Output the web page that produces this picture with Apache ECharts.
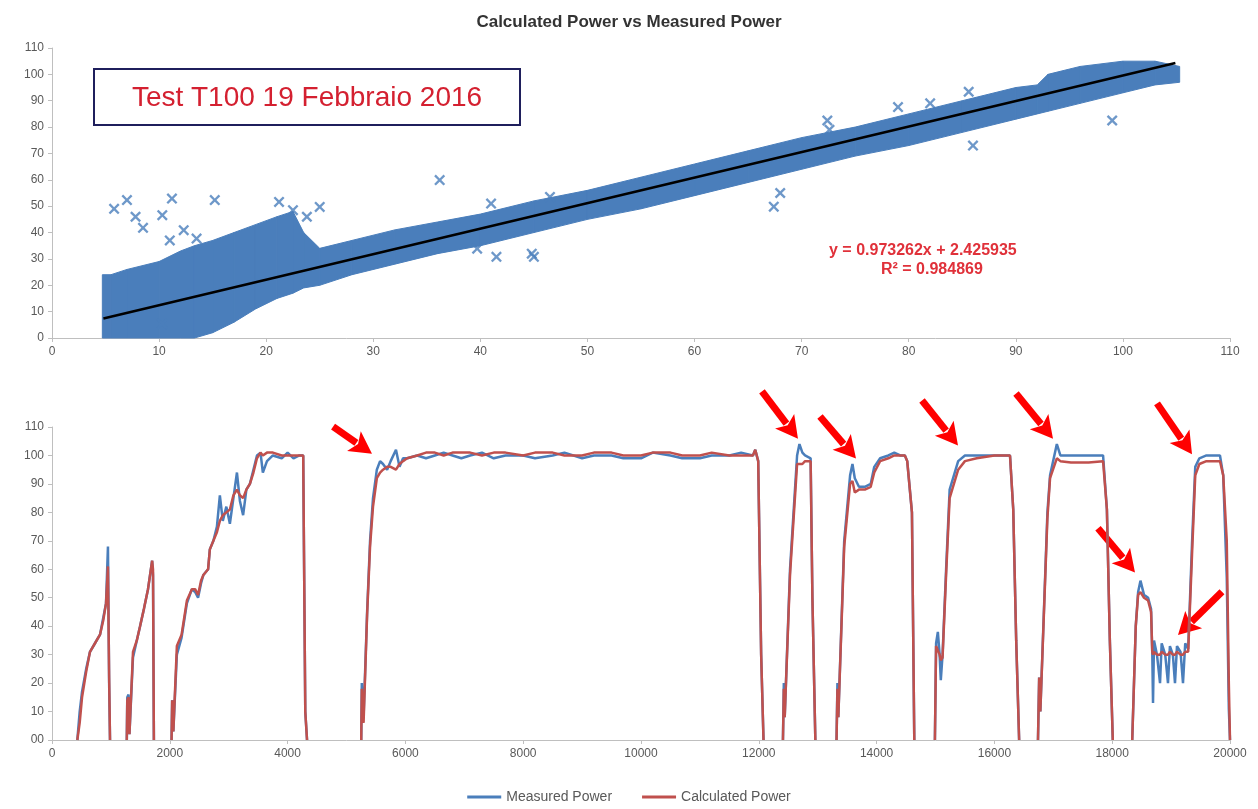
<!DOCTYPE html>
<html>
<head>
<meta charset="utf-8">
<title>Calculated Power vs Measured Power</title>
<script src="https://cdn.jsdelivr.net/npm/echarts@6/dist/echarts.min.js"></script>
<style>
  html, body { margin: 0; padding: 0; background: #fff; }
  #chart { width: 1258px; height: 809px; }
</style>
</head>
<body>
<div id="chart"></div>
<script>
// --- top chart: measured (x) vs calculated (y), band edges
var bandX     = [4.7, 5.5, 7, 10, 12, 13.3, 15, 17, 19, 21, 22.5, 23.5, 25, 28, 32, 36, 40, 45, 50, 55, 60, 65, 70, 75, 80, 85, 90, 92, 93, 96, 100, 103, 105.3];
var bandUpper = [24, 24, 26, 29, 33, 35, 37, 40, 43, 46, 48, 40, 34, 37, 41, 44, 47, 52, 56, 61, 66, 71, 76, 80, 85, 90, 95, 96, 100, 103, 105, 105, 103];
var bandLower = [0, 0, 0, 0, 0, 0, 2, 6, 11, 15, 17, 19, 20, 24, 28, 32, 35, 40, 45, 49, 54, 59, 64, 69, 73, 78, 83, 85, 86, 89, 93, 96, 97];

var outlierX = [5.8, 7, 7.8, 8.5, 10.3, 11.2, 11, 12.3, 13.5, 15.2, 21.2, 22.5, 23.8, 25, 36.2, 41, 41.5, 44.8, 45, 39.7, 46.5, 10.3, 67.4, 68, 72.4, 72.6, 79, 82, 85.6, 86, 99];
var outlierY = [49, 52.3, 46, 41.8, 46.6, 52.9, 37, 40.9, 37.7, 52.3, 51.6, 48.5, 46, 49.7, 59.9, 51, 30.8, 32, 30.8, 33.9, 53.5, 5.4, 49.8, 55, 82.5, 79, 87.6, 89, 93.4, 73, 82.5];

// excel linear trendline, end points
var trendX = [4.8, 104.9];
var trendY = [7.4, 104.3];

// --- bottom chart: power over time (null = no data)
var time = [
  430, 470, 510, 580, 645, 730, 815, 870, 917, 950, 970, 985, 1100,
  1270, 1278, 1300, 1315, 1375, 1440, 1495, 1560, 1630, 1700, 1715, 1730, 1850,
  2030, 2040, 2060, 2120, 2200, 2290, 2375, 2430, 2480, 2530, 2570, 2650, 2680, 2740, 2800, 2850, 2900, 2960, 3020, 3080, 3140, 3190, 3245, 3300, 3360, 3420, 3480, 3540, 3580, 3650, 3750, 3900, 4000, 4100, 4200, 4265, 4300, 4330, 4800,
  5250, 5260, 5290, 5350, 5400, 5450, 5515, 5570, 5620, 5690, 5750, 5840, 5900, 5960, 6030,
  6200, 6350, 6500, 6650, 6800, 6950, 7100, 7300, 7500, 7700, 8000, 8200, 8500, 8700, 9000, 9200, 9500, 9700, 10000, 10200, 10500, 10700, 11000, 11200, 11500, 11700, 11900,
  11940, 11990, 12040, 12080, 12250,
  12410, 12425, 12440, 12530, 12650, 12690, 12740, 12785, 12880, 12910, 12960, 13150,
  13320, 13335, 13350, 13450, 13550, 13590, 13630, 13700, 13800, 13900, 13960, 14060, 14200, 14300, 14400, 14480, 14520, 14600, 14640, 14800,
  14990, 15010, 15040, 15070, 15090, 15120, 15180, 15240, 15385, 15500, 15700, 16000, 16265, 16320, 16370, 16420, 16600,
  16740, 16760, 16780, 16900, 16945, 17060, 17120, 17300, 17600, 17845, 17910, 17960, 18010, 18150,
  18340, 18400, 18440, 18480, 18540, 18610, 18660, 18680, 18693, 18710, 18760, 18812, 18840, 18900, 18947, 18980, 19030, 19066, 19100, 19160, 19202, 19240, 19290, 19355, 19410, 19480, 19600, 19830, 19885, 19945, 19980, 20000
];
var measured = [
  0, 10, 17, 25, 31, 34, 37, 43, 48, 68, 20, 0, null,
  0, 15, 16, 2, 29, 35, 40, 46, 53, 63, 58, 0, null,
  0, 14, 3, 30, 36, 48, 53, 52, 50, 55, 58, 60, 67, 70, 75, 86, 77, 82, 76, 85, 94, 84, 79, 88, 90, 95, 100, 101, 94, 98, 100, 99, 101, 99, 100, 100, 10, 0, null,
  0, 20, 8, 45, 70, 85, 95, 98, 97, 95, 98, 102, 96, 99, 99,
  100, 99, 100, 101, 100, 99, 100, 101, 99, 100, 100, 99, 100, 101, 99, 100, 100, 99, 99, 101, 100, 99, 99, 100, 100, 101, 100,
  102, 98, 30, 0, null,
  0, 20, 8, 60, 100, 104, 101, 100, 99, 50, 0, null,
  0, 20, 8, 70, 93, 97, 92, 89, 89, 90, 96, 99, 100, 101, 100, 100, 98, 80, 0, null,
  0, 34, 38, 30, 21, 30, 60, 88, 98, 100, 100, 100, 100, 81, 35, 0, null,
  0, 22, 10, 80, 93, 104, 100, 100, 100, 100, 81, 35, 0, null,
  0, 40, 52, 56, 51, 50, 46, 31, 13, 35, 30, 20, 34, 30, 20, 33, 30, 20, 33, 31, 20, 34, 32, 69, 96, 99, 100, 100, 93, 57, 11, 0
];
var calculated = [
  0, 6, 15, 24, 31, 34, 37, 42, 48, 61, 22, 0, null,
  0, 14, 15, 2, 31, 35, 40, 46, 53, 63, 60, 0, null,
  0, 14, 3, 33, 37, 49, 53, 53, 51, 56, 58, 60, 67, 70, 73, 77, 79, 80, 81, 86, 88, 86, 85, 88, 90, 94, 99, 101, 100, 101, 101, 100, 100, 100, 100, 100, 10, 0, null,
  0, 18, 6, 44, 68, 82, 92, 94, 95, 96, 96, 95, 97, 98, 99,
  100, 101, 101, 100, 101, 101, 101, 100, 101, 101, 100, 101, 101, 100, 100, 101, 101, 100, 100, 101, 101, 100, 100, 101, 100, 100, 100,
  102, 98, 30, 0, null,
  0, 18, 8, 58, 97, 97, 97, 98, 98, 50, 0, null,
  0, 18, 8, 68, 90, 91, 87, 88, 88, 89, 94, 98, 99, 100, 100, 100, 98, 80, 0, null,
  0, 33, 33, 30, 28, 29, 58, 85, 95, 98, 99, 100, 100, 81, 35, 0, null,
  0, 22, 10, 78, 92, 99, 98, 97.5, 97.5, 98, 81, 35, 0, null,
  0, 40, 51, 52, 50, 49, 45, 31, 30, 31, 30, 30, 31, 30, 30, 31, 30, 30, 31, 30, 30, 31, 31, 65, 93, 97, 98, 98, 93, 70, 20, 0
];

// red annotation arrows: [tail time, tail value, head time, head value]
var arrows = [
  [4772, 110.1, 5433, 100.6],
  [12054, 122.5, 12665, 105.9],
  [13039, 113.7, 13650, 98.9],
  [14771, 119.3, 15382, 103.5],
  [16367, 121.8, 16995, 105.9],
  [18761, 118.3, 19355, 100.4],
  [17759, 74.4, 18387, 58.9],
  [19864, 52.1, 19117, 36.9]
];

var BLUE = '#4a7ebb';
var RED = '#c0504d';
var FONT = '"Liberation Sans", Arial, sans-serif';
var crossSymbol = 'path://M0,1.5L1.5,0L5,3.5L8.5,0L10,1.5L6.5,5L10,8.5L8.5,10L5,6.5L1.5,10L0,8.5L3.5,5Z';

function pairs(xs, ys) {
  return xs.map(function (x, i) { return [x, ys[i] == null ? '-' : ys[i]]; });
}

var bandRows = bandX.map(function (x, i) { return [x, bandLower[i], bandUpper[i]]; });

function axisCommon() {
  return {
    axisLine: { lineStyle: { color: '#bfbfbf', width: 1 } },
    axisTick: { show: true, length: 4, lineStyle: { color: '#bfbfbf' } },
    axisLabel: { color: '#595959', fontSize: 12, fontFamily: FONT, formatter: function (v) { return String(v); } },
    splitLine: { show: false }
  };
}

var myChart = echarts.init(document.getElementById('chart'));

var option = {
  animation: false,
  backgroundColor: '#fff',
  title: {
    text: 'Calculated Power vs Measured Power',
    left: 'center',
    top: 9,
    textStyle: { fontSize: 17, fontWeight: 'bold', color: '#333', fontFamily: FONT }
  },
  legend: {
    bottom: 0,
    left: 'center',
    icon: 'rect',
    itemWidth: 34,
    itemHeight: 3,
    itemGap: 30,
    data: ['Measured Power', 'Calculated Power'],
    textStyle: { color: '#595959', fontSize: 14, fontFamily: FONT }
  },
  grid: [
    { left: 52, right: 28, top: 48, height: 290 },
    { left: 52, right: 28, top: 427, height: 313 }
  ],
  xAxis: [
    Object.assign({ type: 'value', gridIndex: 0, min: 0, max: 110, interval: 10 }, axisCommon()),
    Object.assign({ type: 'value', gridIndex: 1, min: 0, max: 20000, interval: 2000 }, axisCommon())
  ],
  yAxis: [
    Object.assign({ type: 'value', gridIndex: 0, min: 0, max: 110, interval: 10 }, axisCommon()),
    Object.assign({ type: 'value', gridIndex: 1, min: 0, max: 110, interval: 10 }, axisCommon(), {
      axisLabel: {
        color: '#595959', fontSize: 12, fontFamily: FONT,
        formatter: function (v) { return v === 0 ? '00' : String(v); }
      }
    })
  ],
  graphic: [
    {
      type: 'group', left: 93, top: 68,
      children: [
        { type: 'rect', shape: { x: 0, y: 0, width: 426, height: 56 },
          style: { fill: '#fff', stroke: '#1f1f5c', lineWidth: 2 } },
        { type: 'text', x: 213, y: 29,
          style: { text: 'Test T100 19 Febbraio 2016', fill: '#d42030', font: '28px ' + FONT, align: 'center', verticalAlign: 'middle' } }
      ]
    },
    { type: 'text', left: 829, top: 243,
      style: { text: 'y = 0.973262x + 2.425935', fill: '#e0313a', font: 'bold 16px ' + FONT } },
    { type: 'text', left: 881, top: 262,
      style: { text: 'R\u00b2 = 0.984869', fill: '#e0313a', font: 'bold 16px ' + FONT } }
  ],
  series: [
    {
      name: 'band', type: 'custom', xAxisIndex: 0, yAxisIndex: 0,
      data: bandRows, silent: true,
      encode: { x: 0, y: [1, 2] },
      renderItem: function (params, api) {
        var i = params.dataIndex;
        if (i >= bandX.length - 1) return null;
        var pts = [
          api.coord([bandX[i], bandUpper[i]]),
          api.coord([bandX[i + 1], bandUpper[i + 1]]),
          api.coord([bandX[i + 1], bandLower[i + 1]]),
          api.coord([bandX[i], bandLower[i]])
        ];
        return { type: 'polygon', shape: { points: pts },
                 style: { fill: BLUE, stroke: BLUE, lineWidth: 1 } };
      }
    },
    {
      name: 'points', type: 'scatter', xAxisIndex: 0, yAxisIndex: 0,
      data: pairs(outlierX, outlierY), symbol: crossSymbol, symbolSize: 11,
      itemStyle: { color: BLUE }
    },
    {
      name: 'trend', type: 'line', xAxisIndex: 0, yAxisIndex: 0,
      data: pairs(trendX, trendY), symbol: 'none',
      lineStyle: { color: '#000', width: 2.5 }
    },
    {
      name: 'Measured Power', type: 'line', xAxisIndex: 1, yAxisIndex: 1,
      data: pairs(time, measured), symbol: 'none', connectNulls: false,
      color: BLUE, lineStyle: { color: BLUE, width: 2.5 }
    },
    {
      name: 'Calculated Power', type: 'line', xAxisIndex: 1, yAxisIndex: 1,
      data: pairs(time, calculated), symbol: 'none', connectNulls: false,
      color: RED, lineStyle: { color: RED, width: 2.5 }
    },
    {
      name: 'arrows', type: 'custom', xAxisIndex: 1, yAxisIndex: 1,
      data: arrows, silent: true,
      encode: { x: [0, 2], y: [1, 3] },
      renderItem: function (params, api) {
        var p0 = api.coord([api.value(0), api.value(1)]);
        var p1 = api.coord([api.value(2), api.value(3)]);
        var dx = p1[0] - p0[0], dy = p1[1] - p0[1];
        var len = Math.sqrt(dx * dx + dy * dy);
        var ux = dx / len, uy = dy / len, nx = -uy, ny = ux;
        var hl = 22, hw = 12;
        var bx = p1[0] - ux * hl, by = p1[1] - uy * hl;
        return {
          type: 'group',
          children: [
            { type: 'line', shape: { x1: p0[0], y1: p0[1], x2: bx + ux * 3, y2: by + uy * 3 },
              style: { stroke: '#f00', lineWidth: 7 } },
            { type: 'polygon',
              shape: { points: [[p1[0], p1[1]], [bx + nx * hw, by + ny * hw], [bx + ux * 5, by + uy * 5], [bx - nx * hw, by - ny * hw]] },
              style: { fill: '#f00' } }
          ]
        };
      }
    }
  ]
};

myChart.setOption(option);
</script>
</body>
</html>
